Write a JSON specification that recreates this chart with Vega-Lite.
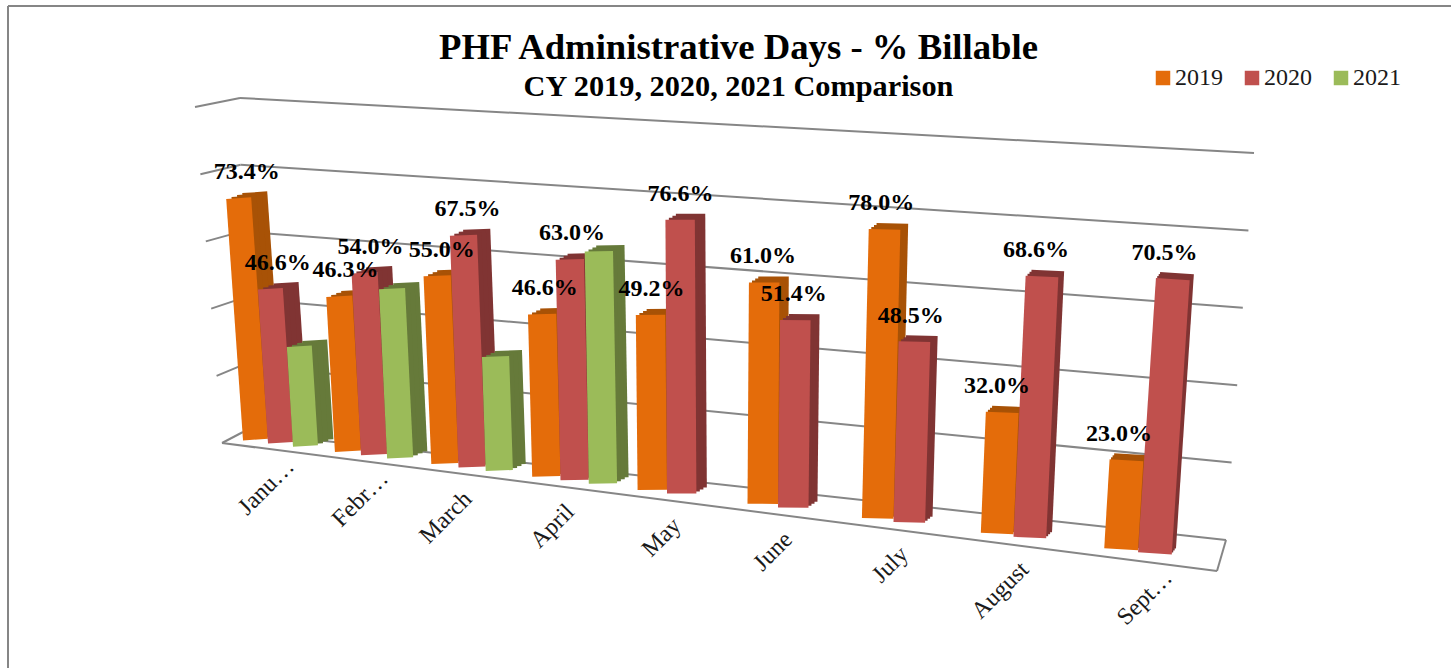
{"$schema":"https://vega.github.io/schema/vega-lite/v6.json","width":1451,"height":668,"padding":0,"autosize":{"type":"none"},"background":"white","config":{"view":{"stroke":null},"axis":{"domain":false}},"title":{"text":"PHF Administrative Days - % Billable","subtitle":"CY 2019, 2020, 2021 Comparison","font":"Liberation Serif","fontSize":36.7,"fontWeight":"bold","color":"#000000","subtitleFont":"Liberation Serif","subtitleFontSize":30.3,"subtitleFontWeight":"bold","subtitleColor":"#000000","subtitlePadding":5,"anchor":"middle","dx":13,"offset":-102},"data":{"values":[{"month":"Janu…","year":2019,"value":73.4},{"month":"Janu…","year":2020,"value":46.6},{"month":"Janu…","year":2021,"value":30},{"month":"Febr…","year":2019,"value":46.3},{"month":"Febr…","year":2020,"value":54.0},{"month":"Febr…","year":2021,"value":50},{"month":"March","year":2019,"value":55.0},{"month":"March","year":2020,"value":67.5},{"month":"March","year":2021,"value":33},{"month":"April","year":2019,"value":46.6},{"month":"April","year":2020,"value":63.0},{"month":"April","year":2021,"value":66},{"month":"May","year":2019,"value":49.2},{"month":"May","year":2020,"value":76.6},{"month":"June","year":2019,"value":61.0},{"month":"June","year":2020,"value":51.4},{"month":"July","year":2019,"value":78.0},{"month":"July","year":2020,"value":48.5},{"month":"August","year":2019,"value":32.0},{"month":"August","year":2020,"value":68.6},{"month":"Sept…","year":2019,"value":23.0},{"month":"Sept…","year":2020,"value":70.5}]},"transform":[{"calculate":"indexof(['Janu…','Febr…','March','April','May','June','July','August','Sept…'],datum.month)","as":"i"},{"calculate":"25+1.1*datum.i","as":"w"},{"calculate":"243+91.9*datum.i+2.25*datum.i*(datum.i-1)","as":"start"},{"calculate":"datum.start+(datum.year-2019)*datum.w+datum.w/2","as":"xB"},{"calculate":"438+0.1266*(datum.xB-243)","as":"yB"},{"calculate":"datum.value*(3.28+(datum.xB-243)*0.00067)","as":"h"},{"calculate":"datum.xB+datum.h*(datum.xB-720)*0.00015","as":"xT"},{"calculate":"datum.yB-datum.h","as":"yT"},{"calculate":"16-(datum.xB-260)*0.0132","as":"dx"},{"calculate":"datum.xT+datum.dx","as":"xT1"},{"calculate":"datum.yT-6","as":"yT1"},{"calculate":"datum.xB+datum.dx","as":"xB1"},{"calculate":"datum.yB-6","as":"yB1"},{"calculate":"datum.xT+datum.dx*0.67","as":"xT2"},{"calculate":"datum.yT-4","as":"yT2"},{"calculate":"datum.xB+datum.dx*0.67","as":"xB2"},{"calculate":"datum.yB-4","as":"yB2"},{"calculate":"datum.xT+datum.dx*0.33","as":"xT3"},{"calculate":"datum.yT-2","as":"yT3"},{"calculate":"datum.xB+datum.dx*0.33","as":"xB3"},{"calculate":"datum.yB-2","as":"yB3"},{"calculate":"datum.xT+8-(datum.xT-240)*0.0174","as":"xL"},{"calculate":"datum.yT-26","as":"yL"},{"calculate":"format(datum.value,'.1f')+'%'","as":"label"},{"calculate":"test(/…/,datum.month)?0.55:0","as":"cut"},{"calculate":"datum.start+(1.35+datum.cut)*datum.w","as":"xM"},{"calculate":"438+0.1266*(datum.xM-243)+29-datum.cut*18","as":"yM"}],"layer":[{"data":{"values":[{"edge":"top"}]},"mark":{"type":"rule","stroke":"#868686","strokeWidth":2},"encoding":{"x":{"datum":8,"type":"quantitative","scale":{"domain":[0,1451],"nice":false,"zero":false},"axis":null},"x2":{"datum":1451},"y":{"datum":6,"type":"quantitative","scale":{"domain":[668,0],"nice":false,"zero":false},"axis":null},"y2":{"datum":6}}},{"data":{"values":[{"edge":"left"}]},"mark":{"type":"rule","stroke":"#868686","strokeWidth":2},"encoding":{"x":{"datum":8,"type":"quantitative"},"x2":{"datum":8},"y":{"datum":6,"type":"quantitative"},"y2":{"datum":668}}},{"data":{"values":[{"level":0},{"level":20},{"level":40},{"level":60},{"level":80},{"level":100}]},"transform":[{"calculate":"222-0.27*datum.level","as":"x1"},{"calculate":"443-3.36*datum.level","as":"y1"},{"calculate":"243-0.03*datum.level","as":"x2"},{"calculate":"432-3.34*datum.level","as":"y2"}],"mark":{"type":"rule","stroke":"#868686","strokeWidth":2},"encoding":{"x":{"field":"x1","type":"quantitative"},"y":{"field":"y1","type":"quantitative"},"x2":{"field":"x2"},"y2":{"field":"y2"}}},{"data":{"values":[{"level":0},{"level":20},{"level":40},{"level":60},{"level":80},{"level":100}]},"transform":[{"calculate":"243-0.03*datum.level","as":"x1"},{"calculate":"432-3.34*datum.level","as":"y1"},{"calculate":"1226+0.28*datum.level","as":"x2"},{"calculate":"540-3.87*datum.level","as":"y2"}],"mark":{"type":"rule","stroke":"#868686","strokeWidth":2},"encoding":{"x":{"field":"x1","type":"quantitative"},"y":{"field":"y1","type":"quantitative"},"x2":{"field":"x2"},"y2":{"field":"y2"}}},{"data":{"values":[{"edge":"front"}]},"mark":{"type":"rule","stroke":"#868686","strokeWidth":2},"encoding":{"x":{"datum":222,"type":"quantitative"},"y":{"datum":443,"type":"quantitative"},"x2":{"datum":1217},"y2":{"datum":571}}},{"data":{"values":[{"edge":"right"}]},"mark":{"type":"rule","stroke":"#868686","strokeWidth":2},"encoding":{"x":{"datum":1226,"type":"quantitative"},"y":{"datum":540,"type":"quantitative"},"x2":{"datum":1217},"y2":{"datum":571}}},{"mark":{"type":"rule"},"encoding":{"x":{"field":"xT1","type":"quantitative"},"y":{"field":"yT1","type":"quantitative"},"x2":{"field":"xB1"},"y2":{"field":"yB1"},"size":{"field":"w","type":"quantitative","scale":null,"legend":null},"stroke":{"field":"year","type":"nominal","legend":null,"scale":{"domain":[2021,2020,2019],"range":["#667A3A","#803433","#A85206"]}}}},{"mark":{"type":"rule"},"encoding":{"x":{"field":"xT2","type":"quantitative"},"y":{"field":"yT2","type":"quantitative"},"x2":{"field":"xB2"},"y2":{"field":"yB2"},"size":{"field":"w","type":"quantitative","scale":null,"legend":null},"stroke":{"field":"year","type":"nominal","legend":null}}},{"mark":{"type":"rule"},"encoding":{"x":{"field":"xT3","type":"quantitative"},"y":{"field":"yT3","type":"quantitative"},"x2":{"field":"xB3"},"y2":{"field":"yB3"},"size":{"field":"w","type":"quantitative","scale":null,"legend":null},"stroke":{"field":"year","type":"nominal","legend":null}}},{"mark":{"type":"rule"},"encoding":{"x":{"field":"xT","type":"quantitative"},"y":{"field":"yT","type":"quantitative"},"x2":{"field":"xB"},"y2":{"field":"yB"},"size":{"field":"w","type":"quantitative","scale":null,"legend":null},"color":{"field":"year","type":"nominal","scale":{"domain":[2019,2020,2021],"range":["#E46C0A","#C0504D","#9BBB59"]},"legend":{"title":null,"orient":"none","legendX":1151,"legendY":66,"direction":"horizontal","symbolType":"square","symbolSize":210,"symbolStrokeWidth":0,"labelFont":"Liberation Serif","labelFontSize":24,"labelColor":"#1a1a1a","labelOffset":0,"columnPadding":17,"columns":3,"encode":{"symbols":{"update":{"fill":{"scale":"color","field":"value"},"opacity":{"value":1}}}}}}}},{"transform":[{"filter":"datum.year!=2021"}],"mark":{"type":"text","font":"Liberation Serif","fontSize":24,"fontWeight":"bold","color":"#000000","baseline":"middle","align":"center"},"encoding":{"x":{"field":"xL","type":"quantitative"},"y":{"field":"yL","type":"quantitative"},"text":{"field":"label","type":"nominal"}}},{"transform":[{"filter":"datum.year==2019"}],"mark":{"type":"text","font":"Liberation Serif","fontSize":24,"color":"#1a1a1a","angle":315,"align":"right","baseline":"middle"},"encoding":{"x":{"field":"xM","type":"quantitative"},"y":{"field":"yM","type":"quantitative"},"text":{"field":"month","type":"nominal"}}}]}
